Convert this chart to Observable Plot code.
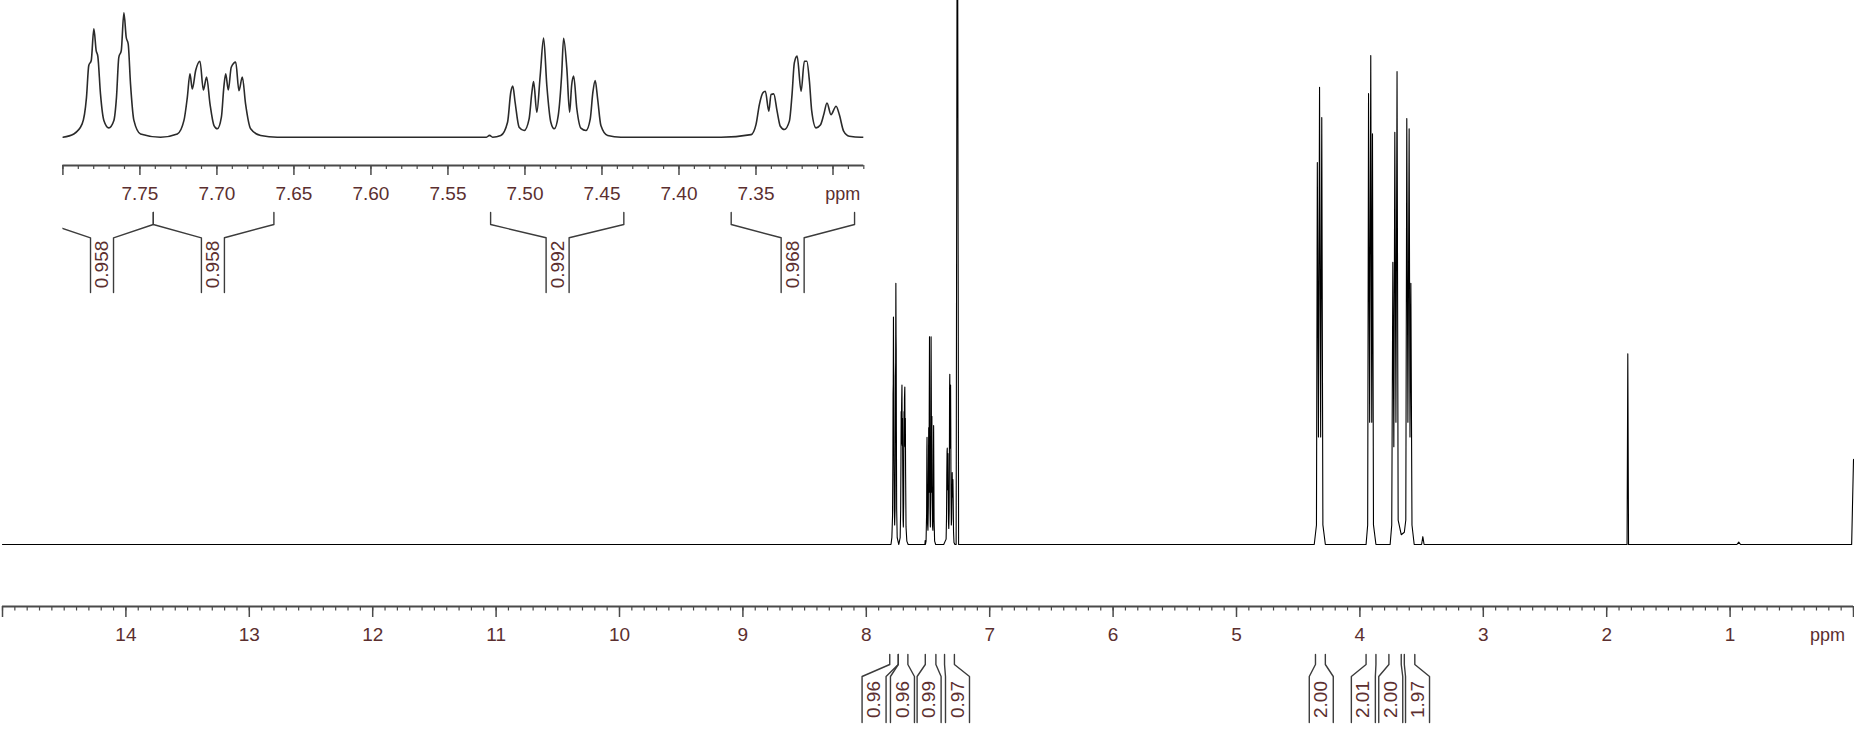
<!DOCTYPE html>
<html><head><meta charset="utf-8">
<script src="https://cdn.jsdelivr.net/npm/d3@7"></script>
<script src="https://cdn.jsdelivr.net/npm/@observablehq/plot@0.6"></script>
<style>
html,body{margin:0;padding:0;background:#fff;}
#wrap{position:relative;width:1854px;height:735px;overflow:hidden;background:#fff;}
#wrap svg{position:absolute;left:0;top:0;}
</style></head>
<body><div id="wrap"></div>
<script>
// ---------- DATA ----------
// Aromatic region trace (ppm, intensity)
const aroPpm = [7.800,7.7929,7.7875,7.7847,7.7832,7.7816,7.7799,7.7784,7.7773,7.7756,7.7734,7.7702,7.7669,7.7652,7.7637,7.7621,7.7604,7.7589,7.7576,7.7561,7.7539,7.7496,7.7366,
  7.7257,7.7214,7.7192,7.7175,7.7160,7.7138,7.7110,7.7088,7.7067,7.7045,7.7019,7.6997,7.6971,7.6955,7.6943,7.6926,7.6907,7.6878,7.6857,7.6835,7.6814,7.6781,7.6716,7.6608,
  7.5250,7.5230,7.5210,
  7.5157,7.5113,7.5092,7.5079,7.5064,7.5038,7.5005,7.4973,7.4955,7.4944,7.4923,7.4901,7.4879,7.4858,7.4832,7.4810,7.4784,7.4762,7.4749,7.4728,7.4710,7.4697,7.4684,7.4663,7.4637,7.4604,7.4576,7.4559,7.4544,7.4528,7.4507,7.4463,7.4377,
  7.3727,7.3532,7.3500,7.3478,7.3456,7.3439,7.3417,7.3402,7.3385,7.3363,7.3342,7.3316,7.3283,7.3266,7.3251,7.3233,7.3207,7.3186,7.3170,7.3153,7.3138,7.3110,7.3082,7.3060,7.3039,7.3013,7.2980,7.2959,7.2931,7.2894,7.2818,7.2800];
const aroInt = [0,1.4,5.7,17,30.8,32.9,46.5,37.2,34.6,18.6,7.2,4.0,7.2,17.2,34.3,37.2,53.4,42.9,40.0,22.9,7.2,1.4,0,
  1.4,7.2,17.2,27.2,20.7,28.6,32.6,20.3,25.8,14.3,5.0,3.6,8.6,21.5,27.2,20.3,30.0,32.2,20.0,25.8,14.3,3.6,0.7,0,
  0,0.8,0,
  0.7,6.4,19.3,21.9,15,4.3,2.9,7.9,19.3,23.9,10.7,26.5,42.5,22.2,6.4,3.6,9.3,26.5,42.5,29.3,10.7,22.2,26.2,12.1,3.9,2.9,7.9,19.3,24.3,16.4,5.0,0.7,0,
  0,1.1,5.4,14,19,19.7,11.2,18.3,18.6,11.2,4.7,3.3,6.9,18.3,31.9,34.8,19.7,32.6,32.6,24,11.2,4,5.2,9.7,14.7,9.7,13.3,9.7,2.6,0.4,0,0];

// Rest of the full spectrum (ppm, intensity)
const otherPpm = [15.00,7.272,7.262,7.252,
  4.370,4.352,4.345,4.336,4.327,4.318,4.309,4.300,4.280,
  3.950,3.937,3.930,3.921,3.912,3.904,3.898,3.890,3.870,
  3.755,3.742,3.733,3.725,3.717,3.708,3.699,3.690,3.665,
  3.640,3.628,3.620,3.611,3.601,3.594,3.587,3.578,3.560,
  3.500,3.490,3.480,
  1.835,1.829,1.823,
  0.945,0.930,0.915,
  0.015,0.000];
const otherInt = [0,0,160,0,
  0,4,78.1,22,93.5,22,87.3,4,0,
  0,4,92.2,25,100,25,84.0,4,0,
  0,4,57.7,20,84.3,25,96.7,5,2,
  2.5,5,87.1,25,85.0,22,53.4,4,0,
  0,1.6,0,
  0,39.0,0,
  0,0.5,0,
  0,17.4];

// Axis ticks
const mainMajorTicks = [15,14,13,12,11,10,9,8,7,6,5,4,3,2,1,0];
const mainTickLabels = [14,13,12,11,10,9,8,7,6,5,4,3,2,1];
const mainUnitLabelAt = [0.21];
const insetMajorTicks = [7.80,7.75,7.70,7.65,7.60,7.55,7.50,7.45,7.40,7.35,7.30];
const insetTickLabels = ["7.75","7.70","7.65","7.60","7.55","7.50","7.45","7.40","7.35"];
const insetUnitLabelAt = [7.2936];

// Integrals, full spectrum
const mainIntFrom  = [7.81,7.741,7.522,7.366,4.36,3.95,3.765,3.64];
const mainIntTo    = [7.741,7.663,7.436,7.286,4.28,3.87,3.665,3.555];
const mainIntLabelAt = [7.937,7.707,7.491,7.261,4.313,3.972,3.750,3.533];
const mainIntValue = ["0.96","0.96","0.99","0.97","2.00","2.01","2.00","1.97"];

// Integrals, inset
const insetIntFrom  = [7.808,7.7413,7.5223,7.3661];
const insetIntTo    = [7.7413,7.663,7.4358,7.2860];
const insetIntLabelAt = [7.7746,7.7026,7.4788,7.3262];
const insetIntValue = ["0.958","0.958","0.992","0.968"];

// ---------- BUILD ----------
const W = 1854, H = 735;
const FONT = "'Liberation Sans', Arial, Helvetica, sans-serif";
const labelColor = "#5b2f2f";
const axisColor = "#4a4a4a";
const bracketColor = "#3c3c3c";

const aroTrace = aroPpm.map((p, i) => ({ppm: p, v: aroInt[i]}));
const mainTrace = aroTrace.concat(otherPpm.map((p, i) => ({ppm: p, v: otherInt[i]})))
  .sort((a, b) => b.ppm - a.ppm);

function bracketPaths(from, to, at, hw, yTop, yMid1, yMid2, yBot) {
  const pts = [];
  from.forEach((f, i) => {
    const t = to[i], c = at[i];
    pts.push({id: i + "L", x: f, y: yTop}, {id: i + "L", x: f, y: yMid1},
             {id: i + "L", x: c + hw, y: yMid2}, {id: i + "L", x: c + hw, y: yBot});
    pts.push({id: i + "R", x: t, y: yTop}, {id: i + "R", x: t, y: yMid1},
             {id: i + "R", x: c - hw, y: yMid2}, {id: i + "R", x: c - hw, y: yBot});
  });
  return pts;
}

// main layout
const mBase = 544, mPx = 4.89, mAxis = 606;
const mL = 2, mR = 1;
const yM = px => (mBase - px) / mPx;
const mDom = [15, 0];
const mHw = 12 * (mDom[0] - mDom[1]) / (W - mL - mR);
const minorMain = d3.range(0, 151).map(k => k / 10);

const mainPlot = Plot.plot({
  width: W, height: H,
  marginTop: 0, marginBottom: 0, marginLeft: mL, marginRight: mR,
  x: {domain: mDom, axis: null},
  y: {domain: [yM(H), yM(0)], axis: null},
  style: {fontFamily: FONT, background: "transparent", overflow: "hidden"},
  marks: [
    Plot.line(mainTrace, {x: "ppm", y: "v", stroke: "#000", strokeWidth: 1.1}),
    Plot.ruleY([yM(mAxis)], {x1: 15, x2: 0, stroke: axisColor, strokeWidth: 1.8}),
    Plot.ruleX(minorMain, {x: d => d, y1: yM(mAxis), y2: yM(mAxis + 4.5), stroke: axisColor, strokeWidth: 1.2}),
    Plot.ruleX(mainMajorTicks, {x: d => d, y1: yM(mAxis), y2: yM(mAxis + 11), stroke: axisColor, strokeWidth: 1.5}),
    Plot.text(mainTickLabels, {x: d => d, y: yM(634), text: d => String(d), fontSize: 19, fill: labelColor, fontFamily: FONT}),
    Plot.text(mainUnitLabelAt, {x: d => d, y: yM(635), text: () => "ppm", fontSize: 18, fill: labelColor, fontFamily: FONT}),
    Plot.line(bracketPaths(mainIntFrom, mainIntTo, mainIntLabelAt, mHw, yM(654), yM(664), yM(676), yM(722)),
      {x: "x", y: "y", z: "id", stroke: bracketColor, strokeWidth: 1.4}),
    Plot.text(mainIntLabelAt, {x: d => d, y: yM(699), text: (d, i) => mainIntValue[i], rotate: -90,
      fontSize: 19, fill: labelColor, fontFamily: FONT})
  ]
});

// inset layout
const iW = 880, iH = 300;
const iBase = 136.7, iPx = 2.33, iAxis = 165;
const iL = 62.4, iR = iW - 863.3;
const yI = px => (iBase - px) / iPx;
const iDom = [7.80, 7.28];
const iHw = 11.5 * (iDom[0] - iDom[1]) / (iW - iL - iR);
const minorInset = d3.range(728, 781).map(k => k / 100);

const insetPlot = Plot.plot({
  width: iW, height: iH,
  marginTop: 0, marginBottom: 0, marginLeft: iL, marginRight: iR,
  x: {domain: iDom, axis: null},
  y: {domain: [yI(iH), yI(0)], axis: null},
  style: {fontFamily: FONT, background: "transparent"},
  marks: [
    Plot.line(aroTrace, {x: "ppm", y: "v", stroke: "#2a2a2a", strokeWidth: 1.6, curve: "monotone-x", clip: true}),
    Plot.ruleY([yI(iAxis)], {x1: iDom[0], x2: iDom[1], stroke: axisColor, strokeWidth: 1.8}),
    Plot.ruleX(minorInset, {x: d => d, y1: yI(iAxis), y2: yI(iAxis + 4), stroke: axisColor, strokeWidth: 1.2}),
    Plot.ruleX(insetMajorTicks, {x: d => d, y1: yI(iAxis), y2: yI(iAxis + 10), stroke: axisColor, strokeWidth: 1.5}),
    Plot.text(insetTickLabels, {x: d => +d, y: yI(193), text: d => d, fontSize: 19, fill: labelColor, fontFamily: FONT}),
    Plot.text(insetUnitLabelAt, {x: d => d, y: yI(194), text: () => "ppm", fontSize: 18, fill: labelColor, fontFamily: FONT}),
    Plot.line(bracketPaths(insetIntFrom, insetIntTo, insetIntLabelAt, iHw, yI(212), yI(224), yI(237.3), yI(292)),
      {x: "x", y: "y", z: "id", stroke: bracketColor, strokeWidth: 1.4, clip: true}),
    Plot.text(insetIntLabelAt, {x: d => d, y: yI(264), text: (d, i) => insetIntValue[i], rotate: -90,
      fontSize: 19, fill: labelColor, fontFamily: FONT})
  ]
});

const wrap = document.getElementById("wrap");
wrap.appendChild(mainPlot);
wrap.appendChild(insetPlot);
</script>
</body></html>
